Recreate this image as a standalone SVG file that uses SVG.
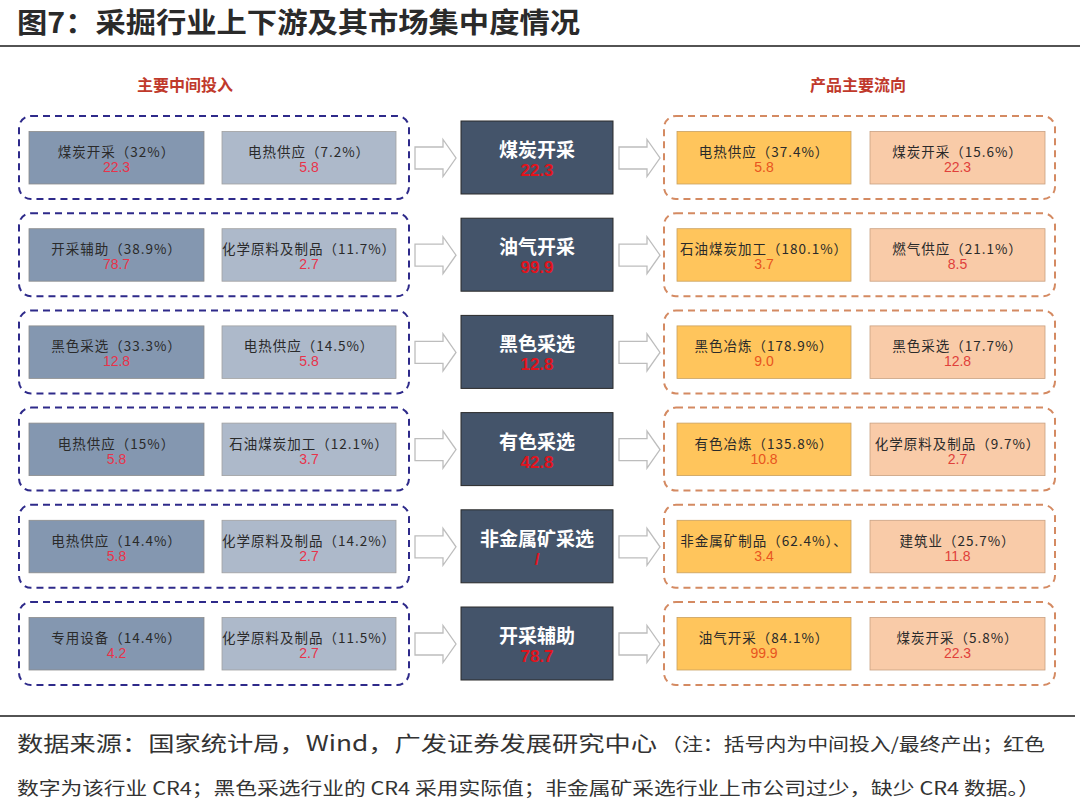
<svg xmlns="http://www.w3.org/2000/svg" width="1080" height="808" viewBox="0 0 1080 808">
<style>
.cjk{font-family:"Noto Sans CJK SC","Liberation Sans",sans-serif}
.num{font-family:"Liberation Sans","Noto Sans CJK SC",sans-serif;text-anchor:middle}
.lb{font-size:13.5px;fill:#2a2a2a;text-anchor:middle;letter-spacing:1px}
.ld{fill:none;stroke:#2E2A8A;stroke-width:2;stroke-dasharray:7 5}
.rd{fill:none;stroke:#D48A62;stroke-width:2;stroke-dasharray:7 5}
.l1{fill:#8497B0;stroke:#8c8c8c;stroke-width:0.8}
.l2{fill:#ADB9CA;stroke:#a0a0a0;stroke-width:0.8}
.r1{fill:#FFC55C;stroke:#C9A060;stroke-width:0.8}
.r2{fill:#F9CBA8;stroke:#C9A080;stroke-width:0.8}
.c{fill:#44546A;stroke:#2a2a2a;stroke-width:1}
.ct{font-size:19px;font-weight:bold;fill:#ffffff;text-anchor:middle}
.cn{font-size:17px;font-weight:bold;fill:#E0141E}
.nl{font-size:14px;fill:#E8334A}
.nr1{font-size:14px;fill:#E8541E}
.nr2{font-size:14px;fill:#E0403A}
.hd{font-size:16px;font-weight:bold;fill:#C0392B;text-anchor:middle}
#connectors use{fill:#ffffff;stroke:#bdbdbd;stroke-width:1.3}
</style>
<defs>
<path id="ar" d="M0,0 h28 v-7.5 l13,18.5 l-13,18.5 v-7.5 h-28 z"/>
</defs>
<rect width="1080" height="808" fill="#ffffff"/>
<text x="17" y="33" class="cjk" font-size="28" font-weight="bold" fill="#2a2a2a" textLength="563" lengthAdjust="spacingAndGlyphs">图7：采掘行业上下游及其市场集中度情况</text>
<line x1="0" y1="46" x2="1080" y2="46" stroke="#1a1a1a" stroke-width="1.5"/>
<text x="185" y="91" class="cjk hd">主要中间投入</text>
<text x="858" y="91" class="cjk hd">产品主要流向</text>

<g id="connectors">
<use href="#ar" x="415" y="147"/><use href="#ar" x="619" y="147"/>
<use href="#ar" x="415" y="244.2"/><use href="#ar" x="619" y="244.2"/>
<use href="#ar" x="415" y="341.4"/><use href="#ar" x="619" y="341.4"/>
<use href="#ar" x="415" y="438.6"/><use href="#ar" x="619" y="438.6"/>
<use href="#ar" x="415" y="535.8"/><use href="#ar" x="619" y="535.8"/>
<use href="#ar" x="415" y="633"/><use href="#ar" x="619" y="633"/>
</g>

<!-- Row 1 -->
<g id="row1" transform="translate(0,0)">
<g id="in1"><rect class="ld" x="19" y="116" width="390" height="83" rx="12"/>
<g id="in1a"><rect class="l1" x="29" y="131.5" width="175" height="52.5"/><text class="cjk lb" x="116.5" y="157">煤炭开采（32%）</text><text class="num nl" x="116.5" y="172">22.3</text></g>
<g id="in1b"><rect class="l2" x="222" y="131.5" width="174" height="52.5"/><text class="cjk lb" x="309" y="157">电热供应（7.2%）</text><text class="num nl" x="309" y="172">5.8</text></g></g>
<g id="c1"><rect class="c" x="461" y="121" width="152" height="73"/><text class="cjk ct" x="537" y="157">煤炭开采</text><text class="num cn" x="537" y="176">22.3</text></g>
<g id="out1"><rect class="rd" x="664" y="116" width="391" height="83" rx="12"/>
<g id="out1a"><rect class="r1" x="677" y="131.5" width="174" height="52.5"/><text class="cjk lb" x="764" y="157">电热供应（37.4%）</text><text class="num nr1" x="764" y="172">5.8</text></g>
<g id="out1b"><rect class="r2" x="870" y="131.5" width="175" height="52.5"/><text class="cjk lb" x="957.5" y="157">煤炭开采（15.6%）</text><text class="num nr2" x="957.5" y="172">22.3</text></g></g>
</g>

<!-- Row 2 -->
<g id="row2" transform="translate(0,97.2)">
<g id="in2"><rect class="ld" x="19" y="116" width="390" height="83" rx="12"/>
<g id="in2a"><rect class="l1" x="29" y="131.5" width="175" height="52.5"/><text class="cjk lb" x="116.5" y="157">开采辅助（38.9%）</text><text class="num nl" x="116.5" y="172">78.7</text></g>
<g id="in2b"><rect class="l2" x="222" y="131.5" width="174" height="52.5"/><text class="cjk lb" x="309" y="157">化学原料及制品（11.7%）</text><text class="num nl" x="309" y="172">2.7</text></g></g>
<g id="c2"><rect class="c" x="461" y="121" width="152" height="73"/><text class="cjk ct" x="537" y="157">油气开采</text><text class="num cn" x="537" y="176">99.9</text></g>
<g id="out2"><rect class="rd" x="664" y="116" width="391" height="83" rx="12"/>
<g id="out2a"><rect class="r1" x="677" y="131.5" width="174" height="52.5"/><text class="cjk lb" x="764" y="157">石油煤炭加工（180.1%）</text><text class="num nr1" x="764" y="172">3.7</text></g>
<g id="out2b"><rect class="r2" x="870" y="131.5" width="175" height="52.5"/><text class="cjk lb" x="957.5" y="157">燃气供应（21.1%）</text><text class="num nr2" x="957.5" y="172">8.5</text></g></g>
</g>

<!-- Row 3 -->
<g id="row3" transform="translate(0,194.4)">
<g id="in3"><rect class="ld" x="19" y="116" width="390" height="83" rx="12"/>
<g id="in3a"><rect class="l1" x="29" y="131.5" width="175" height="52.5"/><text class="cjk lb" x="116.5" y="157">黑色采选（33.3%）</text><text class="num nl" x="116.5" y="172">12.8</text></g>
<g id="in3b"><rect class="l2" x="222" y="131.5" width="174" height="52.5"/><text class="cjk lb" x="309" y="157">电热供应（14.5%）</text><text class="num nl" x="309" y="172">5.8</text></g></g>
<g id="c3"><rect class="c" x="461" y="121" width="152" height="73"/><text class="cjk ct" x="537" y="157">黑色采选</text><text class="num cn" x="537" y="176">12.8</text></g>
<g id="out3"><rect class="rd" x="664" y="116" width="391" height="83" rx="12"/>
<g id="out3a"><rect class="r1" x="677" y="131.5" width="174" height="52.5"/><text class="cjk lb" x="764" y="157">黑色冶炼（178.9%）</text><text class="num nr1" x="764" y="172">9.0</text></g>
<g id="out3b"><rect class="r2" x="870" y="131.5" width="175" height="52.5"/><text class="cjk lb" x="957.5" y="157">黑色采选（17.7%）</text><text class="num nr2" x="957.5" y="172">12.8</text></g></g>
</g>

<!-- Row 4 -->
<g id="row4" transform="translate(0,291.6)">
<g id="in4"><rect class="ld" x="19" y="116" width="390" height="83" rx="12"/>
<g id="in4a"><rect class="l1" x="29" y="131.5" width="175" height="52.5"/><text class="cjk lb" x="116.5" y="157">电热供应（15%）</text><text class="num nl" x="116.5" y="172">5.8</text></g>
<g id="in4b"><rect class="l2" x="222" y="131.5" width="174" height="52.5"/><text class="cjk lb" x="309" y="157">石油煤炭加工（12.1%）</text><text class="num nl" x="309" y="172">3.7</text></g></g>
<g id="c4"><rect class="c" x="461" y="121" width="152" height="73"/><text class="cjk ct" x="537" y="157">有色采选</text><text class="num cn" x="537" y="176">42.8</text></g>
<g id="out4"><rect class="rd" x="664" y="116" width="391" height="83" rx="12"/>
<g id="out4a"><rect class="r1" x="677" y="131.5" width="174" height="52.5"/><text class="cjk lb" x="764" y="157">有色冶炼（135.8%）</text><text class="num nr1" x="764" y="172">10.8</text></g>
<g id="out4b"><rect class="r2" x="870" y="131.5" width="175" height="52.5"/><text class="cjk lb" x="957.5" y="157">化学原料及制品（9.7%）</text><text class="num nr2" x="957.5" y="172">2.7</text></g></g>
</g>

<!-- Row 5 -->
<g id="row5" transform="translate(0,388.8)">
<g id="in5"><rect class="ld" x="19" y="116" width="390" height="83" rx="12"/>
<g id="in5a"><rect class="l1" x="29" y="131.5" width="175" height="52.5"/><text class="cjk lb" x="116.5" y="157">电热供应（14.4%）</text><text class="num nl" x="116.5" y="172">5.8</text></g>
<g id="in5b"><rect class="l2" x="222" y="131.5" width="174" height="52.5"/><text class="cjk lb" x="309" y="157">化学原料及制品（14.2%）</text><text class="num nl" x="309" y="172">2.7</text></g></g>
<g id="c5"><rect class="c" x="461" y="121" width="152" height="73"/><text class="cjk ct" x="537" y="157">非金属矿采选</text><text class="num cn" x="537" y="176">/</text></g>
<g id="out5"><rect class="rd" x="664" y="116" width="391" height="83" rx="12"/>
<g id="out5a"><rect class="r1" x="677" y="131.5" width="174" height="52.5"/><text class="cjk lb" x="764" y="157">非金属矿制品（62.4%）、</text><text class="num nr1" x="764" y="172">3.4</text></g>
<g id="out5b"><rect class="r2" x="870" y="131.5" width="175" height="52.5"/><text class="cjk lb" x="957.5" y="157">建筑业（25.7%）</text><text class="num nr2" x="957.5" y="172">11.8</text></g></g>
</g>

<!-- Row 6 -->
<g id="row6" transform="translate(0,486)">
<g id="in6"><rect class="ld" x="19" y="116" width="390" height="83" rx="12"/>
<g id="in6a"><rect class="l1" x="29" y="131.5" width="175" height="52.5"/><text class="cjk lb" x="116.5" y="157">专用设备（14.4%）</text><text class="num nl" x="116.5" y="172">4.2</text></g>
<g id="in6b"><rect class="l2" x="222" y="131.5" width="174" height="52.5"/><text class="cjk lb" x="309" y="157">化学原料及制品（11.5%）</text><text class="num nl" x="309" y="172">2.7</text></g></g>
<g id="c6"><rect class="c" x="461" y="121" width="152" height="73"/><text class="cjk ct" x="537" y="157">开采辅助</text><text class="num cn" x="537" y="176">78.7</text></g>
<g id="out6"><rect class="rd" x="664" y="116" width="391" height="83" rx="12"/>
<g id="out6a"><rect class="r1" x="677" y="131.5" width="174" height="52.5"/><text class="cjk lb" x="764" y="157">油气开采（84.1%）</text><text class="num nr1" x="764" y="172">99.9</text></g>
<g id="out6b"><rect class="r2" x="870" y="131.5" width="175" height="52.5"/><text class="cjk lb" x="957.5" y="157">煤炭开采（5.8%）</text><text class="num nr2" x="957.5" y="172">22.3</text></g></g>
</g>

<line x1="0" y1="716" x2="1075" y2="716" stroke="#1a1a1a" stroke-width="1.5"/>
<text x="17" y="751" class="cjk" font-size="21" fill="#333333" textLength="640" lengthAdjust="spacingAndGlyphs">数据来源：国家统计局，Wind，广发证券发展研究中心</text>
<text x="661" y="751" class="cjk" font-size="18" fill="#333333" textLength="384" lengthAdjust="spacingAndGlyphs">（注：括号内为中间投入/最终产出；红色</text>
<text x="17" y="795" class="cjk" font-size="18" fill="#333333" textLength="1023" lengthAdjust="spacingAndGlyphs">数字为该行业 CR4；黑色采选行业的 CR4 采用实际值；非金属矿采选行业上市公司过少，缺少 CR4 数据。）</text>
</svg>
